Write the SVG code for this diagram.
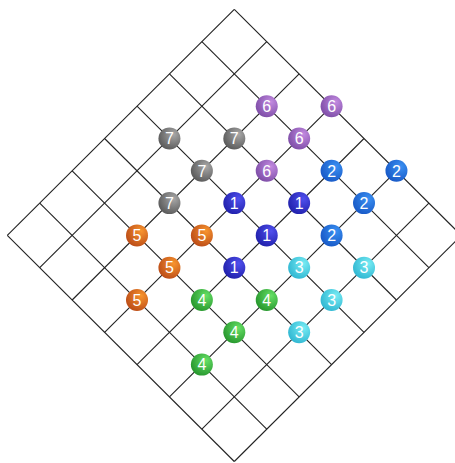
<svg xmlns="http://www.w3.org/2000/svg" width="455" height="463" viewBox="0 0 455 463">
<style>
.grid line{stroke:#222;stroke-width:1.1;fill:none}
.b circle{stroke:none}
.b text{font-family:"Liberation Sans",Arial,sans-serif;font-size:16px;fill:#fff;text-anchor:middle}
</style>
<defs>
<radialGradient id="g1" cx="0.65" cy="0.35" r="0.75" fx="0.7" fy="0.3"><stop offset="0" stop-color="#5050ee"/><stop offset="1" stop-color="#1e1ea8"/></radialGradient>
<radialGradient id="g2" cx="0.65" cy="0.35" r="0.75" fx="0.7" fy="0.3"><stop offset="0" stop-color="#3a90f2"/><stop offset="1" stop-color="#1656c4"/></radialGradient>
<radialGradient id="g3" cx="0.65" cy="0.35" r="0.75" fx="0.7" fy="0.3"><stop offset="0" stop-color="#78ecf4"/><stop offset="1" stop-color="#2cb4d0"/></radialGradient>
<radialGradient id="g4" cx="0.65" cy="0.35" r="0.75" fx="0.7" fy="0.3"><stop offset="0" stop-color="#66e066"/><stop offset="1" stop-color="#23922a"/></radialGradient>
<radialGradient id="g5" cx="0.65" cy="0.35" r="0.75" fx="0.7" fy="0.3"><stop offset="0" stop-color="#f8942e"/><stop offset="1" stop-color="#b84816"/></radialGradient>
<radialGradient id="g6" cx="0.65" cy="0.35" r="0.75" fx="0.7" fy="0.3"><stop offset="0" stop-color="#c28ae0"/><stop offset="1" stop-color="#7a4aa4"/></radialGradient>
<radialGradient id="g7" cx="0.65" cy="0.35" r="0.75" fx="0.7" fy="0.3"><stop offset="0" stop-color="#a8a8a8"/><stop offset="1" stop-color="#555"/></radialGradient>
</defs>
<rect width="455" height="463" fill="#fff"/>
<g id="connectors" class="grid">
<line x1="234.3" y1="9.3" x2="7.29" y2="235.4"/>
<line x1="266.73" y1="41.6" x2="39.72" y2="267.7"/>
<line x1="299.16" y1="73.9" x2="72.15" y2="300"/>
<line x1="331.59" y1="106.2" x2="104.58" y2="332.3"/>
<line x1="364.02" y1="138.5" x2="137.01" y2="364.6"/>
<line x1="396.45" y1="170.8" x2="169.44" y2="396.9"/>
<line x1="428.88" y1="203.1" x2="201.87" y2="429.2"/>
<line x1="461.31" y1="235.4" x2="234.3" y2="461.5"/>
<line x1="234.3" y1="9.3" x2="461.31" y2="235.4"/>
<line x1="201.87" y1="41.6" x2="428.88" y2="267.7"/>
<line x1="169.44" y1="73.9" x2="396.45" y2="300"/>
<line x1="137.01" y1="106.2" x2="364.02" y2="332.3"/>
<line x1="104.58" y1="138.5" x2="331.59" y2="364.6"/>
<line x1="72.15" y1="170.8" x2="299.16" y2="396.9"/>
<line x1="39.72" y1="203.1" x2="266.73" y2="429.2"/>
<line x1="7.29" y1="235.4" x2="234.3" y2="461.5"/>
</g>
<g id="n6a" class="b"><circle cx="266.73" cy="106.2" r="11" fill="url(#g6)"/><text x="266.73" y="111.9">6</text></g>
<g id="n6b" class="b"><circle cx="331.59" cy="106.2" r="11" fill="url(#g6)"/><text x="331.59" y="111.9">6</text></g>
<g id="n6c" class="b"><circle cx="299.16" cy="138.5" r="11" fill="url(#g6)"/><text x="299.16" y="144.2">6</text></g>
<g id="n6d" class="b"><circle cx="266.73" cy="170.8" r="11" fill="url(#g6)"/><text x="266.73" y="176.5">6</text></g>
<g id="n7a" class="b"><circle cx="169.44" cy="138.5" r="11" fill="url(#g7)"/><text x="169.44" y="144.2">7</text></g>
<g id="n7b" class="b"><circle cx="234.3" cy="138.5" r="11" fill="url(#g7)"/><text x="234.3" y="144.2">7</text></g>
<g id="n7c" class="b"><circle cx="201.87" cy="170.8" r="11" fill="url(#g7)"/><text x="201.87" y="176.5">7</text></g>
<g id="n7d" class="b"><circle cx="169.44" cy="203.1" r="11" fill="url(#g7)"/><text x="169.44" y="208.8">7</text></g>
<g id="n2a" class="b"><circle cx="331.59" cy="170.8" r="11" fill="url(#g2)"/><text x="331.59" y="176.5">2</text></g>
<g id="n2b" class="b"><circle cx="396.45" cy="170.8" r="11" fill="url(#g2)"/><text x="396.45" y="176.5">2</text></g>
<g id="n2c" class="b"><circle cx="364.02" cy="203.1" r="11" fill="url(#g2)"/><text x="364.02" y="208.8">2</text></g>
<g id="n2d" class="b"><circle cx="331.59" cy="235.4" r="11" fill="url(#g2)"/><text x="331.59" y="241.1">2</text></g>
<g id="n1a" class="b"><circle cx="234.3" cy="203.1" r="11" fill="url(#g1)"/><text x="234.3" y="208.8">1</text></g>
<g id="n1b" class="b"><circle cx="299.16" cy="203.1" r="11" fill="url(#g1)"/><text x="299.16" y="208.8">1</text></g>
<g id="n1c" class="b"><circle cx="266.73" cy="235.4" r="11" fill="url(#g1)"/><text x="266.73" y="241.1">1</text></g>
<g id="n1d" class="b"><circle cx="234.3" cy="267.7" r="11" fill="url(#g1)"/><text x="234.3" y="273.4">1</text></g>
<g id="n5a" class="b"><circle cx="137.01" cy="235.4" r="11" fill="url(#g5)"/><text x="137.01" y="241.1">5</text></g>
<g id="n5b" class="b"><circle cx="201.87" cy="235.4" r="11" fill="url(#g5)"/><text x="201.87" y="241.1">5</text></g>
<g id="n5c" class="b"><circle cx="169.44" cy="267.7" r="11" fill="url(#g5)"/><text x="169.44" y="273.4">5</text></g>
<g id="n5d" class="b"><circle cx="137.01" cy="300" r="11" fill="url(#g5)"/><text x="137.01" y="305.7">5</text></g>
<g id="n3a" class="b"><circle cx="299.16" cy="267.7" r="11" fill="url(#g3)"/><text x="299.16" y="273.4">3</text></g>
<g id="n3b" class="b"><circle cx="364.02" cy="267.7" r="11" fill="url(#g3)"/><text x="364.02" y="273.4">3</text></g>
<g id="n3c" class="b"><circle cx="331.59" cy="300" r="11" fill="url(#g3)"/><text x="331.59" y="305.7">3</text></g>
<g id="n3d" class="b"><circle cx="299.16" cy="332.3" r="11" fill="url(#g3)"/><text x="299.16" y="338">3</text></g>
<g id="n4a" class="b"><circle cx="201.87" cy="300" r="11" fill="url(#g4)"/><text x="201.87" y="305.7">4</text></g>
<g id="n4b" class="b"><circle cx="266.73" cy="300" r="11" fill="url(#g4)"/><text x="266.73" y="305.7">4</text></g>
<g id="n4c" class="b"><circle cx="234.3" cy="332.3" r="11" fill="url(#g4)"/><text x="234.3" y="338">4</text></g>
<g id="n4d" class="b"><circle cx="201.87" cy="364.6" r="11" fill="url(#g4)"/><text x="201.87" y="370.3">4</text></g>
</svg>
